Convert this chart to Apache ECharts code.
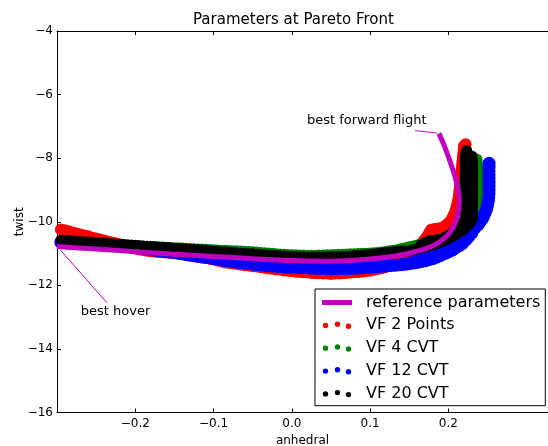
<!DOCTYPE html>
<html><head><meta charset="utf-8">
<script src="https://cdn.jsdelivr.net/npm/echarts@6/dist/echarts.min.js"></script>
<style>html,body{margin:0;padding:0;background:#fff}#c{width:548px;height:446px}</style>
</head><body><div id="c"></div>
<script>
// ---- data (x = anhedral, y = twist) ----
const xTicks = [-0.2, -0.1, 0.0, 0.1, 0.2];
const seriesNames = ['reference parameters', 'VF 2 Points', 'VF 4 CVT', 'VF 12 CVT', 'VF 20 CVT'];

const referenceParams = [
  [-0.300,-10.78],[-0.250,-10.86],[-0.200,-10.94],[-0.150,-11.02],[-0.100,-11.09],[-0.050,-11.16],
  [0.000,-11.22],[0.040,-11.24],[0.080,-11.21],[0.110,-11.15],[0.135,-11.06],[0.155,-10.96],
  [0.172,-10.84],[0.186,-10.68],[0.197,-10.47],[0.205,-10.22],[0.210,-9.95],[0.213,-9.65],
  [0.214,-9.35],[0.213,-9.05],[0.210,-8.72],[0.206,-8.38],[0.201,-8.02],[0.195,-7.62],[0.188,-7.22]
];

const vf2Points = [
  [-0.295,-10.24],[-0.290,-10.27],[-0.285,-10.30],[-0.280,-10.34],[-0.275,-10.37],[-0.270,-10.40],[-0.265,-10.43],
  [-0.260,-10.46],[-0.255,-10.50],[-0.250,-10.53],[-0.245,-10.56],[-0.240,-10.59],[-0.235,-10.62],[-0.230,-10.65],
  [-0.225,-10.68],[-0.220,-10.71],[-0.215,-10.75],[-0.210,-10.78],[-0.205,-10.81],[-0.200,-10.84],[-0.195,-10.87],
  [-0.190,-10.89],[-0.185,-10.91],[-0.180,-10.93],[-0.175,-10.94],[-0.170,-10.95],[-0.165,-10.96],[-0.160,-10.97],
  [-0.155,-10.98],[-0.150,-10.99],[-0.145,-11.00],[-0.140,-11.02],[-0.135,-11.04],[-0.130,-11.06],[-0.125,-11.08],
  [-0.120,-11.10],[-0.115,-11.12],[-0.110,-11.14],[-0.105,-11.16],[-0.100,-11.19],[-0.095,-11.22],[-0.090,-11.25],
  [-0.085,-11.28],[-0.080,-11.30],[-0.075,-11.31],[-0.070,-11.33],[-0.065,-11.35],[-0.060,-11.37],[-0.055,-11.38],
  [-0.050,-11.40],[-0.045,-11.41],[-0.040,-11.43],[-0.035,-11.45],[-0.030,-11.47],[-0.025,-11.48],[-0.020,-11.50],
  [-0.015,-11.51],[-0.010,-11.53],[-0.005,-11.54],[0.000,-11.56],[0.005,-11.57],[0.010,-11.58],[0.015,-11.59],
  [0.020,-11.60],[0.025,-11.61],[0.030,-11.62],[0.035,-11.62],[0.040,-11.63],[0.045,-11.63],[0.050,-11.64],
  [0.055,-11.63],[0.060,-11.63],[0.065,-11.62],[0.070,-11.61],[0.075,-11.60],[0.080,-11.59],[0.085,-11.58],
  [0.090,-11.57],[0.095,-11.55],[0.100,-11.54],[0.105,-11.51],[0.110,-11.49],[0.115,-11.46],[0.120,-11.42],
  [0.125,-11.37],[0.130,-11.32],[0.135,-11.25],[0.140,-11.18],[0.145,-11.10],[0.150,-11.02],[0.155,-10.92],
  [0.160,-10.82],[0.164,-10.72],[0.168,-10.62],[0.171,-10.52],[0.174,-10.42],[0.176,-10.33],[0.178,-10.25],
  [0.182,-10.23],[0.186,-10.22],[0.190,-10.20],[0.194,-10.17],[0.197,-10.11],[0.200,-10.05],[0.203,-9.97],
  [0.205,-9.88],[0.207,-9.78],[0.209,-9.68],[0.210,-9.58],[0.211,-9.48],[0.212,-9.38],[0.213,-9.28],
  [0.2135,-9.17],[0.214,-9.05],[0.2145,-8.94],[0.215,-8.82],[0.2155,-8.70],[0.216,-8.58],[0.2165,-8.46],
  [0.217,-8.34],[0.2175,-8.22],[0.218,-8.10],[0.2185,-7.98],[0.219,-7.86],[0.2195,-7.74],[0.220,-7.62],[0.222,-7.56]
];

const vf4Cvt = [
  [-0.295,-10.62],[-0.285,-10.64],[-0.275,-10.655],[-0.265,-10.67],[-0.255,-10.685],[-0.245,-10.70],[-0.235,-10.715],
  [-0.225,-10.73],[-0.215,-10.745],[-0.205,-10.76],[-0.200,-10.77],[-0.195,-10.775],[-0.190,-10.78],[-0.185,-10.785],
  [-0.180,-10.79],[-0.175,-10.795],[-0.170,-10.80],[-0.165,-10.81],[-0.160,-10.82],[-0.155,-10.825],[-0.150,-10.83],
  [-0.145,-10.835],[-0.140,-10.84],[-0.135,-10.85],[-0.130,-10.86],[-0.125,-10.865],[-0.120,-10.87],[-0.115,-10.875],
  [-0.110,-10.88],[-0.105,-10.89],[-0.100,-10.90],[-0.095,-10.905],[-0.090,-10.91],[-0.085,-10.915],[-0.080,-10.92],
  [-0.075,-10.925],[-0.070,-10.93],[-0.065,-10.935],[-0.060,-10.94],[-0.055,-10.95],[-0.050,-10.96],[-0.045,-10.97],
  [-0.040,-10.98],[-0.035,-10.99],[-0.030,-11.00],[-0.025,-11.01],[-0.020,-11.02],[-0.015,-11.03],[-0.010,-11.04],
  [-0.005,-11.045],[0.000,-11.05],[0.005,-11.055],[0.010,-11.06],[0.015,-11.065],[0.020,-11.07],[0.025,-11.07],
  [0.030,-11.07],[0.035,-11.065],[0.040,-11.06],[0.045,-11.055],[0.050,-11.05],[0.055,-11.045],[0.060,-11.04],
  [0.065,-11.035],[0.070,-11.03],[0.075,-11.025],[0.080,-11.02],[0.085,-11.015],[0.090,-11.01],[0.095,-11.005],
  [0.100,-11.00],[0.105,-10.99],[0.110,-10.98],[0.115,-10.965],[0.120,-10.95],[0.125,-10.93],[0.130,-10.91],
  [0.135,-10.885],[0.140,-10.86],[0.145,-10.83],[0.150,-10.80],[0.155,-10.775],[0.160,-10.75],[0.165,-10.715],
  [0.170,-10.68],[0.175,-10.65],[0.180,-10.62],[0.185,-10.595],[0.190,-10.57],[0.195,-10.545],[0.200,-10.52],
  [0.205,-10.495],[0.210,-10.47],[0.215,-10.435],[0.220,-10.40],[0.224,-10.35],[0.227,-10.30],[0.230,-10.23],
  [0.232,-10.16],[0.234,-10.07],[0.235,-9.98],[0.236,-9.88],[0.237,-9.78],[0.237,-9.655],[0.237,-9.53],
  [0.237,-9.405],[0.237,-9.28],[0.237,-9.155],[0.237,-9.03],[0.237,-8.905],[0.237,-8.78],[0.237,-8.655],
  [0.237,-8.53],[0.237,-8.405],[0.237,-8.28],[0.2365,-8.16],[0.236,-8.04]
];

const vf12Cvt = [
  [-0.295,-10.65],[-0.285,-10.665],[-0.275,-10.68],[-0.265,-10.695],[-0.255,-10.71],[-0.245,-10.725],[-0.235,-10.74],
  [-0.225,-10.755],[-0.215,-10.77],[-0.205,-10.79],[-0.195,-10.81],[-0.190,-10.83],[-0.185,-10.85],[-0.180,-10.87],
  [-0.175,-10.895],[-0.170,-10.91],[-0.165,-10.925],[-0.160,-10.94],[-0.155,-10.955],[-0.150,-10.97],[-0.145,-10.99],
  [-0.140,-11.01],[-0.135,-11.03],[-0.130,-11.05],[-0.125,-11.07],[-0.120,-11.09],[-0.115,-11.105],[-0.110,-11.12],
  [-0.105,-11.14],[-0.100,-11.16],[-0.095,-11.18],[-0.090,-11.20],[-0.085,-11.22],[-0.080,-11.24],[-0.075,-11.255],
  [-0.070,-11.27],[-0.065,-11.285],[-0.060,-11.30],[-0.055,-11.315],[-0.050,-11.33],[-0.045,-11.345],[-0.040,-11.36],
  [-0.035,-11.37],[-0.030,-11.38],[-0.025,-11.39],[-0.020,-11.40],[-0.015,-11.41],[-0.010,-11.42],[-0.005,-11.425],
  [0.000,-11.43],[0.005,-11.435],[0.010,-11.44],[0.015,-11.445],[0.020,-11.45],[0.025,-11.455],[0.030,-11.46],
  [0.035,-11.465],[0.040,-11.47],[0.045,-11.47],[0.050,-11.47],[0.055,-11.47],[0.060,-11.47],[0.065,-11.47],
  [0.070,-11.47],[0.075,-11.465],[0.080,-11.46],[0.085,-11.455],[0.090,-11.45],[0.095,-11.44],[0.100,-11.43],
  [0.105,-11.42],[0.110,-11.41],[0.115,-11.40],[0.120,-11.39],[0.125,-11.38],[0.130,-11.37],[0.135,-11.36],
  [0.140,-11.35],[0.145,-11.335],[0.150,-11.32],[0.155,-11.30],[0.160,-11.28],[0.165,-11.255],[0.170,-11.23],
  [0.175,-11.195],[0.180,-11.16],[0.185,-11.11],[0.190,-11.06],[0.195,-11.005],[0.200,-10.95],[0.205,-10.89],
  [0.209,-10.82],[0.214,-10.75],[0.218,-10.68],[0.222,-10.58],[0.226,-10.47],[0.230,-10.33],[0.234,-10.19],
  [0.237,-10.10],[0.240,-10.02],[0.243,-9.92],[0.245,-9.83],[0.247,-9.72],[0.249,-9.60],[0.250,-9.48],
  [0.251,-9.36],[0.2515,-9.24],[0.252,-9.12],[0.252,-9.00],[0.252,-8.88],[0.252,-8.76],[0.252,-8.64],
  [0.252,-8.52],[0.252,-8.40],[0.252,-8.28],[0.252,-8.16],
  [0.160,-11.12],[0.170,-11.07],[0.180,-11.00],[0.190,-10.93],[0.200,-10.84],[0.210,-10.72],[0.220,-10.56],
  [0.230,-10.35],[0.238,-10.10]
];

const vf20Cvt = [
  [-0.295,-10.58],[-0.290,-10.59],[-0.285,-10.595],[-0.280,-10.60],[-0.275,-10.61],[-0.270,-10.62],[-0.265,-10.63],
  [-0.260,-10.64],[-0.255,-10.65],[-0.250,-10.66],[-0.245,-10.665],[-0.240,-10.67],[-0.235,-10.68],[-0.230,-10.69],
  [-0.225,-10.70],[-0.220,-10.71],[-0.215,-10.715],[-0.210,-10.72],[-0.205,-10.73],[-0.200,-10.74],[-0.195,-10.75],
  [-0.190,-10.76],[-0.185,-10.77],[-0.180,-10.78],[-0.175,-10.79],[-0.170,-10.80],[-0.165,-10.805],[-0.160,-10.81],
  [-0.155,-10.82],[-0.150,-10.83],[-0.145,-10.84],[-0.140,-10.85],[-0.135,-10.86],[-0.130,-10.87],[-0.125,-10.875],
  [-0.120,-10.88],[-0.115,-10.89],[-0.110,-10.90],[-0.105,-10.91],[-0.100,-10.92],[-0.095,-10.93],[-0.090,-10.94],
  [-0.085,-10.95],[-0.080,-10.96],[-0.075,-10.97],[-0.070,-10.98],[-0.065,-10.99],[-0.060,-11.00],[-0.055,-11.005],
  [-0.050,-11.01],[-0.045,-11.02],[-0.040,-11.03],[-0.035,-11.04],[-0.030,-11.05],[-0.025,-11.055],[-0.020,-11.06],
  [-0.015,-11.07],[-0.010,-11.08],[-0.005,-11.085],[0.000,-11.09],[0.005,-11.095],[0.010,-11.10],[0.015,-11.105],
  [0.020,-11.11],[0.025,-11.11],[0.030,-11.11],[0.035,-11.11],[0.040,-11.11],[0.045,-11.105],[0.050,-11.10],
  [0.055,-11.10],[0.060,-11.10],[0.065,-11.095],[0.070,-11.09],[0.075,-11.08],[0.080,-11.07],[0.085,-11.06],
  [0.090,-11.05],[0.095,-11.04],[0.100,-11.03],[0.105,-11.015],[0.110,-11.00],[0.115,-10.985],[0.120,-10.97],
  [0.125,-10.955],[0.130,-10.94],[0.135,-10.93],[0.140,-10.92],[0.145,-10.92],[0.150,-10.92],[0.155,-10.89],
  [0.160,-10.86],[0.165,-10.83],[0.170,-10.80],[0.175,-10.765],[0.180,-10.73],[0.185,-10.69],[0.189,-10.65],
  [0.194,-10.605],[0.198,-10.56],[0.202,-10.51],[0.206,-10.46],[0.210,-10.40],[0.214,-10.34],[0.218,-10.275],
  [0.221,-10.21],[0.224,-10.14],[0.227,-10.07],[0.229,-10.00],[0.231,-9.92],
  [0.165,-10.72],[0.170,-10.66],[0.175,-10.60],[0.180,-10.585],[0.185,-10.57],[0.190,-10.55],[0.194,-10.52],
  [0.198,-10.45],[0.203,-10.38],[0.207,-10.30],[0.210,-10.22],[0.213,-10.14],[0.216,-10.05],
  [0.2215,-10.00],[0.2215,-9.875],[0.2215,-9.75],[0.2215,-9.625],[0.2215,-9.50],[0.2215,-9.375],[0.2215,-9.25],
  [0.2215,-9.125],[0.2215,-9.00],[0.2215,-8.875],[0.2215,-8.75],[0.2215,-8.625],[0.2215,-8.50],[0.2215,-8.375],
  [0.2215,-8.25],[0.2215,-8.125],[0.2215,-8.00],[0.222,-7.875],[0.2235,-7.76],
  [0.231,-9.80],[0.231,-9.675],[0.231,-9.55],[0.231,-9.425],[0.231,-9.30],[0.231,-9.175],[0.231,-9.05],
  [0.231,-8.925],[0.231,-8.80],[0.231,-8.675],[0.231,-8.55],[0.231,-8.425],[0.231,-8.30],[0.231,-8.175],
  [0.231,-8.05],[0.230,-7.93]
];

// annotations: label position and arrow (from -> to) in data coordinates
const annotationText = ['best forward flight', 'best hover'];
const annotationLabelAt = [[0.0957, -6.83], [-0.2252, -12.83]];
const annotationArrowFrom = [[0.1575, -7.135], [-0.2363, -12.544]];
const annotationArrowTo = [[0.1856, -7.21], [-0.296, -10.88]];

// ---- chart ----
const FONT = 'DejaVu Sans';
const minus = s => String(s).replace('-', '\u2212');
const A = (x0, y0) => 'M' + x0 + ',' + y0 + 'L' + (x0 + 0.01) + ',' + y0 + 'L' + x0 + ',' + (y0 + 0.01) + 'Z';
const anchors = A(0, 0) + A(38.99, 7.99);
const circ = (cx, cy, r) => 'M' + (cx - r) + ',' + cy + 'A' + r + ',' + r + ',0,1,0,' + (cx + r) + ',' + cy +
  'A' + r + ',' + r + ',0,1,0,' + (cx - r) + ',' + cy + 'Z';
const lineIcon = 'path://' + anchors + 'M0,1.5L30,1.5L30,6.5L0,6.5Z';
const dotsIcon = 'path://' + anchors + circ(3.5, 4.2, 2.7) + circ(15.5, 2.9, 2.7) + circ(26.5, 4.9, 2.7);

const colors = ['#bf00bf', '#ff0000', '#008000', '#0000ff', '#000000'];

const chart = echarts.init(document.getElementById('c'), null, {renderer: 'canvas'});

const axisCommon = {
  axisLine: {show: true, onZero: false, lineStyle: {color: '#000', width: 1}},
  splitLine: {show: false}
};

function scatter(name, data, color, size) {
  return {
    type: 'scatter', name: name, data: data, symbol: 'circle', symbolSize: size,
    itemStyle: {color: color, opacity: 1}, large: false, silent: true, z: 2
  };
}

const option = {
  animation: false,
  textStyle: {fontFamily: FONT, color: '#000'},
  title: {
    text: 'Parameters at Pareto Front', left: 193, top: 13, padding: 0,
    textStyle: {fontFamily: FONT, fontSize: 15, fontWeight: 'normal', color: '#000'}
  },
  grid: {left: 57, right: 0, top: 31, bottom: 33.5, containLabel: false, outerBoundsMode: 'none'},
  legend: {
    orient: 'vertical', left: 315, top: 289, padding: [5.5, 5, 4, 7], itemGap: 6.8,
    itemWidth: 39, itemHeight: 16, symbolKeepAspect: true,
    borderColor: '#000', borderWidth: 1, backgroundColor: '#fff', borderRadius: 0,
    textStyle: {fontFamily: FONT, fontSize: 16, color: '#000', lineHeight: 16},
    data: [
      {name: seriesNames[0], icon: lineIcon, itemStyle: {color: colors[0]}},
      {name: seriesNames[1], icon: dotsIcon, itemStyle: {color: colors[1]}},
      {name: seriesNames[2], icon: dotsIcon, itemStyle: {color: colors[2]}},
      {name: seriesNames[3], icon: dotsIcon, itemStyle: {color: colors[3]}},
      {name: seriesNames[4], icon: dotsIcon, itemStyle: {color: colors[4]}}
    ]
  },
  xAxis: [
    Object.assign({}, axisCommon, {
      type: 'value', position: 'bottom', min: -0.3, max: 0.3273, interval: 0.1,
      name: 'anhedral', nameLocation: 'middle', nameGap: 18,
      nameTextStyle: {fontFamily: FONT, fontSize: 12, color: '#000'},
      axisTick: {show: true, inside: true, length: 4, customValues: xTicks, lineStyle: {color: '#000'}},
      axisLabel: {show: true, customValues: xTicks, margin: 5, fontFamily: FONT, fontSize: 12, color: '#000',
        formatter: v => minus(Number(v).toFixed(1))}
    }),
    Object.assign({}, axisCommon, {
      type: 'value', position: 'top', min: -0.3, max: 0.3273, interval: 0.1,
      axisTick: {show: true, inside: true, length: 4, customValues: xTicks, lineStyle: {color: '#000'}},
      axisLabel: {show: false}
    })
  ],
  yAxis: Object.assign({}, axisCommon, {
    type: 'value', min: -16, max: -4, interval: 2,
    name: 'twist', nameLocation: 'middle', nameGap: 31, nameRotate: 90, nameMoveOverlap: false,
    nameTextStyle: {fontFamily: FONT, fontSize: 12, color: '#000'},
    axisTick: {show: true, inside: true, length: 4, lineStyle: {color: '#000'}},
    axisLabel: {margin: 4, fontFamily: FONT, fontSize: 12, color: '#000', formatter: v => minus(v)}
  }),
  series: [
    scatter(seriesNames[1], vf2Points, colors[1], 12),
    scatter(seriesNames[2], vf4Cvt, colors[2], 12),
    scatter(seriesNames[3], vf12Cvt, colors[3], 13),
    scatter(seriesNames[4], vf20Cvt, colors[4], 11),
    {
      type: 'line', name: seriesNames[0], data: referenceParams, smooth: 0.3, showSymbol: false,
      lineStyle: {color: colors[0], width: 5}, itemStyle: {color: colors[0]}, z: 3, silent: true,
      markLine: {
        silent: true, symbol: ['none', 'arrow'], symbolSize: [0, 7], precision: 4,
        lineStyle: {color: colors[0], width: 1, type: 'solid'}, label: {show: false},
        data: annotationArrowFrom.map((p, i) => [{coord: p}, {coord: annotationArrowTo[i]}])
      },
      markPoint: {
        silent: true, symbol: 'circle', symbolSize: 1, itemStyle: {color: 'rgba(0,0,0,0)'},
        label: {show: true, position: 'inside', formatter: p => p.name, fontFamily: FONT, fontSize: 13, color: '#000'},
        data: annotationText.map((t, i) => ({name: t, coord: annotationLabelAt[i]}))
      }
    }
  ]
};
chart.setOption(option);
</script></body></html>
